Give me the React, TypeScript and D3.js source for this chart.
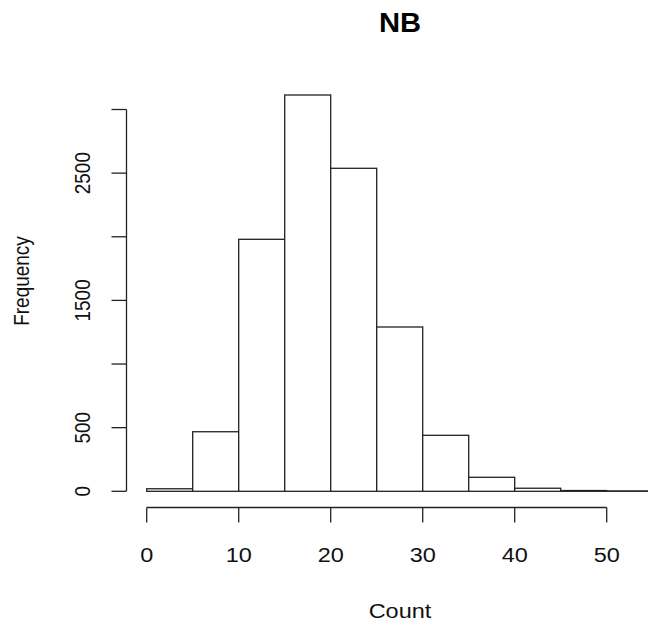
import React from "react";
import * as d3 from "d3";

const binStarts = [0, 5, 10, 15, 20, 25, 30, 35, 40, 45, 50];
const binWidth = 5;
const frequencies = [20, 468, 1980, 3114, 2538, 1291, 440, 110, 24, 6, 3];
const xTicks = [0, 10, 20, 30, 40, 50];
const yTicks = [0, 500, 1000, 1500, 2000, 2500, 3000];
const yTickLabels = ["0", "500", "", "1500", "", "2500", ""];

const W = 648;
const H = 625;
const FONT = "'Liberation Sans', Arial, Helvetica, sans-serif";

export default function App() {
  const x = d3.scaleLinear().domain([0, 50]).range([146.7, 606.7]);
  const y = d3.scaleLinear().domain([0, 3000]).range([491.3, 109.5]);
  const axisX = 126.5;
  const axisY = 507.5;
  const tick = 15;
  const stroke = "#222";
  const hfs = 21; // horizontal text size
  const hsx = 1.12; // horizontal stretch
  const vfs = 19; // vertical text size
  const vsy = 1.12; // glyph-height stretch for rotated text

  return (
    <svg
      width={W}
      height={H}
      style={{ position: "absolute", left: 0, top: 0, background: "#fff" }}
      fontFamily={FONT}
    >
      <rect x={0} y={0} width={W} height={H} fill="#fff" />
      <text
        transform={`translate(400,32) scale(1.08,1)`}
        textAnchor="middle"
        fontWeight="bold"
        fontSize={27}
        fill="#000"
      >
        NB
      </text>
      {binStarts.map((s, i) => (
        <rect
          key={i}
          x={x(s)}
          y={y(frequencies[i])}
          width={x(s + binWidth) - x(s)}
          height={y(0) - y(frequencies[i])}
          fill="#fff"
          stroke={stroke}
          strokeWidth={1.3}
        />
      ))}
      <line x1={axisX} x2={axisX} y1={y(0)} y2={y(3000)} stroke={stroke} strokeWidth={1.3} />
      {yTicks.map((t, i) => (
        <g key={t}>
          <line x1={axisX - tick} x2={axisX} y1={y(t)} y2={y(t)} stroke={stroke} strokeWidth={1.3} />
          {yTickLabels[i] && (
            <text
              transform={`translate(${90},${y(t)}) rotate(-90) scale(1,${vsy})`}
              textAnchor="middle"
              fontSize={vfs}
              fill="#111"
            >
              {yTickLabels[i]}
            </text>
          )}
        </g>
      ))}
      <line x1={x(0)} x2={x(50)} y1={axisY} y2={axisY} stroke={stroke} strokeWidth={1.3} />
      {xTicks.map((t) => (
        <g key={t}>
          <line x1={x(t)} x2={x(t)} y1={axisY} y2={axisY + tick} stroke={stroke} strokeWidth={1.3} />
          <text
            transform={`translate(${x(t)},562) scale(${hsx},1)`}
            textAnchor="middle"
            fontSize={hfs}
            fill="#111"
          >
            {t}
          </text>
        </g>
      ))}
      <text
        transform={`translate(400,618) scale(${hsx},1)`}
        textAnchor="middle"
        fontSize={hfs}
        fill="#111"
      >
        Count
      </text>
      <text
        transform={`translate(${29},${281}) rotate(-90) scale(1,${vsy})`}
        textAnchor="middle"
        fontSize={vfs}
        fill="#111"
      >
        Frequency
      </text>
    </svg>
  );
}
